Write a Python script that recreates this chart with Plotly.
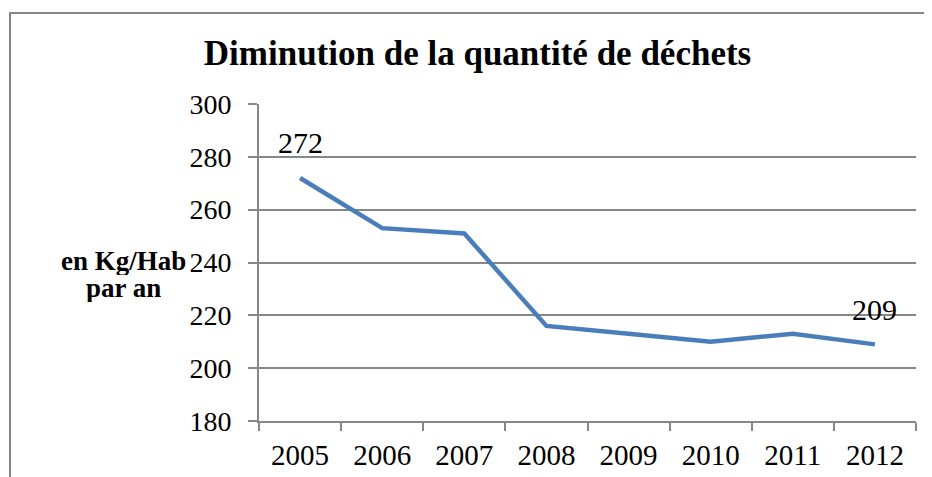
import plotly.graph_objects as go

years = ["2005", "2006", "2007", "2008", "2009", "2010", "2011", "2012"]
values = [272, 253, 251, 216, 213, 210, 213, 209]
labelled_idx = [0, 7]
title = "Diminution de la quantité de déchets"
ytitle_lines = ["en Kg/Hab", "par an"]

FONT = "Liberation Serif"
GRAY = "#878787"

# page body adds an 8px offset; compensate in margins
OFF = 8
L, T, PW, PH = 259 - OFF, 104 - OFF, 657, 317

fig = go.Figure()
fig.add_trace(go.Scatter(x=years, y=values, mode="lines",
                         line=dict(color="#4A7EBB", width=4.5), hoverinfo="x+y"))

for i in labelled_idx:
    fig.add_annotation(x=i, y=values[i], text=str(values[i]), showarrow=False, yshift=35,
                       font=dict(family=FONT, size=30, color="black"))

for line, ys in zip(ytitle_lines, [0.506, 0.418]):
    fig.add_annotation(xref="paper", yref="paper", x=-0.207, y=ys, text="<b>" + line + "</b>",
                       showarrow=False, xanchor="center", yanchor="middle",
                       height=28, valign="middle", borderpad=0,
                       font=dict(family=FONT, size=27, color="black"))

fig.add_shape(type="rect", xref="paper", yref="paper", x0=-0.379, x1=1.0228, y0=-0.4, y1=1.287,
              line=dict(color=GRAY, width=2), fillcolor="rgba(0,0,0,0)", layer="below")

fig.update_layout(
    width=932, height=477,
    margin=dict(l=L, r=932 - L - PW, t=T, b=477 - T - PH),
    paper_bgcolor="white", plot_bgcolor="white",
    showlegend=False,
    title=dict(text="<b>" + title + "</b>", x=469.5/932, xanchor="center", xref="container",
               y=1 - 45/477, yanchor="middle",
               font=dict(family=FONT, size=35, color="black")),
    font=dict(family=FONT, size=29, color="black"),
)
fig.update_xaxes(type="category", categoryorder="array", categoryarray=years,
                 range=[-0.5, len(years) - 0.5], autorange=False,
                 showline=True, linecolor=GRAY, linewidth=2,
                 ticks="outside", tickson="boundaries", ticklen=8, tickcolor=GRAY, tickwidth=2,
                 showgrid=False, ticklabelstandoff=7, tickfont=dict(family=FONT, size=29))
fig.update_yaxes(range=[180, 300], autorange=False, dtick=20, showline=True, linecolor=GRAY, linewidth=2,
                 ticks="outside", ticklen=9, tickcolor=GRAY, tickwidth=2,
                 showgrid=True, gridcolor=GRAY, gridwidth=1.5, zeroline=False,
                 ticklabelstandoff=11,
                 tickfont=dict(family=FONT, size=28))

fig.write_html("out.html")
